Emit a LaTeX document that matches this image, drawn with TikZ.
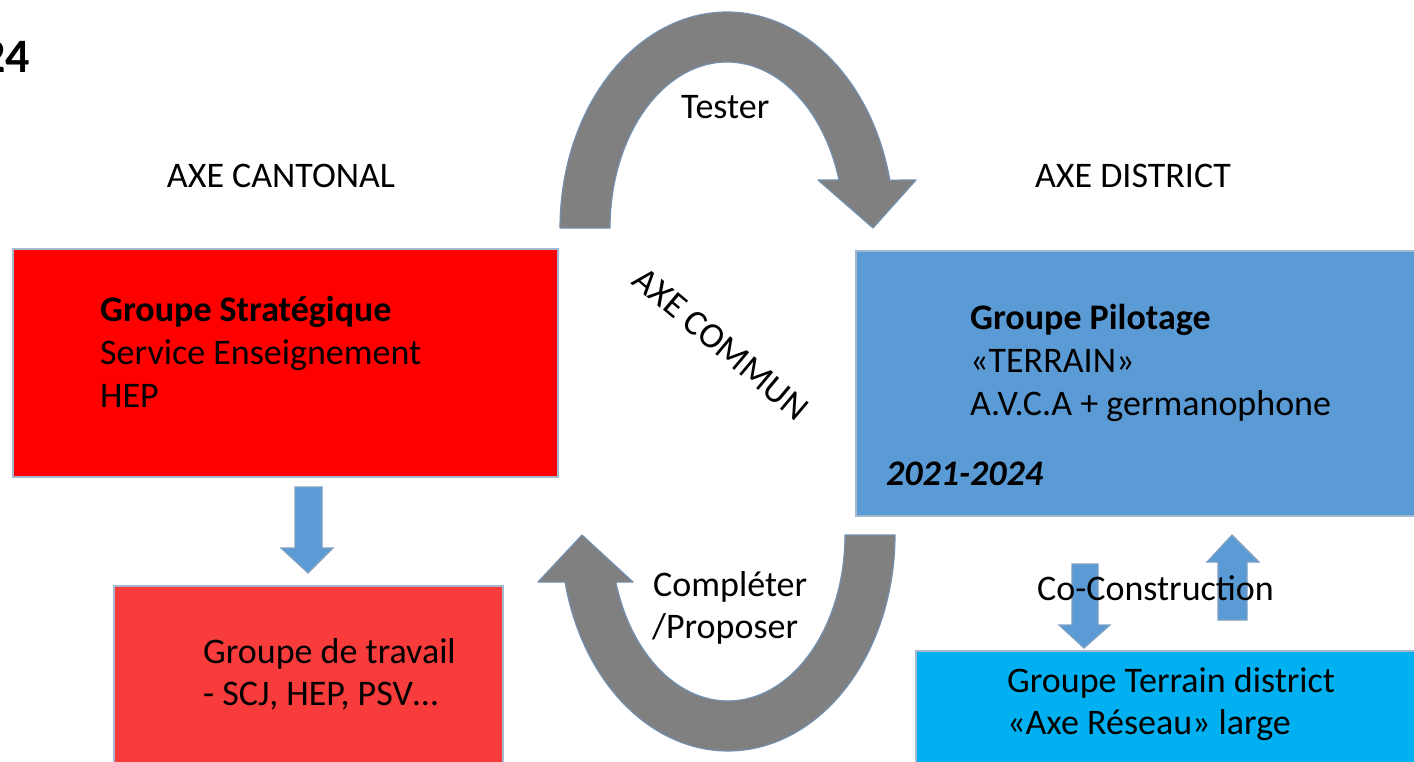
\documentclass[tikz,border=0pt]{standalone}
\usepackage{fontspec}
\setmainfont{Carlito}
\usetikzlibrary{calc}
\definecolor{boxred}{HTML}{FF0000}
\definecolor{boxred2}{HTML}{F83B3B}
\definecolor{boxblue}{HTML}{5B9BD5}
\definecolor{boxcyan}{HTML}{00B0F0}
\definecolor{edgeblue}{HTML}{A3B8CF}
\definecolor{arrgray}{HTML}{808080}
\definecolor{arredge}{HTML}{7390AE}
\definecolor{smalledge}{HTML}{7EA0C4}
\tikzset{
  box/.style={draw=edgeblue, line width=2pt, anchor=north west, inner sep=0pt},
  txt/.style={anchor=base west, inner sep=0pt, font=\fontsize{36}{43}\selectfont, text=black},
  ctxt/.style={anchor=base, inner sep=0pt, font=\fontsize{36}{43}\selectfont, text=black},
  garrow/.style={fill=arrgray, draw=arredge, line width=1.2pt, line join=round},
  barrow/.style={fill=boxblue, draw=smalledge, line width=1.2pt}
}
\begin{document}
\begin{tikzpicture}[x=1pt,y=-1pt]
\useasboundingbox (0,0) rectangle (1414,761);
\fill[white] (0,0) rectangle (1414,761);
% boxes
\node[box, fill=boxred, minimum width=545pt, minimum height=228pt] (cant) at (12,248) {};
\node[box, fill=boxblue, minimum width=575pt, minimum height=265pt] (dist) at (855,250) {};
\node[box, fill=boxred2, minimum width=389pt, minimum height=190pt] (trav) at (113,585) {};
\node[box, fill=boxcyan, minimum width=515pt, minimum height=130pt] (terr) at (915,650) {};
% big curved arrows
\path[garrow] plot[domain=180:347.2, samples=80] ({727+167*cos(\x)},{228+216*sin(\x)})
  -- (916,180) -- (873,228) -- (818,180)
  -- plot[domain=343.2:180, samples=80] ({727+117*cos(\x)},{228+166*sin(\x)}) -- cycle;
\path[garrow] plot[domain=0:167.4, samples=80] ({728+167*cos(\x)},{535+216*sin(\x)})
  -- (538,582) -- (582,535) -- (633,582)
  -- plot[domain=163.5:0, samples=80] ({728+117*cos(\x)},{535+166*sin(\x)}) -- cycle;
% small blue arrows
\path[barrow] (295,487) -- (322,487) -- (322,548) -- (333,548) -- (308,573) -- (281,548) -- (295,548) -- cycle;
\path[barrow] (1072,564) -- (1098,564) -- (1098,625) -- (1110,625) -- (1084,648) -- (1059,625) -- (1072,625) -- cycle;
\path[barrow] (1218,620) -- (1247,620) -- (1247,562) -- (1259,562) -- (1232,535) -- (1207,562) -- (1218,562) -- cycle;
% texts
\node[anchor=base east, inner sep=0pt, font=\fontsize{48}{58}\selectfont\bfseries] (year) at (30,72) {24};
\node[ctxt] (lcant) at (281,187) {AXE CANTONAL};
\node[ctxt] (ldist) at (1133,187) {AXE DISTRICT};
\node[txt] (tester) at (681,118) {Tester};
\node[inner sep=0pt, rotate=-40, font=\fontsize{36}{43}\selectfont] (commun) at (721,344) {AXE COMMUN};
\node[txt, font=\fontsize{36}{43}\selectfont\bfseries] (c1) at (100,321) {Groupe Stratégique};
\node[txt] (c2) at (100,364) {Service Enseignement};
\node[txt] (c3) at (100,407) {HEP};
\node[txt, font=\fontsize{36}{43}\selectfont\bfseries] (d1) at (970,329) {Groupe Pilotage};
\node[txt] (d2) at (970,372) {«TERRAIN»};
\node[txt] (d3) at (970,415) {A.V.C.A + germanophone};
\node[txt, font=\fontsize{36}{43}\selectfont\bfseries\itshape] (d4) at (886,485) {2021-2024};
\node[txt] (t1) at (203,663) {Groupe de travail};
\node[txt] (t2) at (203,705) {- SCJ, HEP, PSV…};
\node[txt] (g1) at (1007,692) {Groupe Terrain district};
\node[txt] (g2) at (1007,734) {«Axe Réseau» large};
\node[txt] (cocon) at (1037,600) {Co-Construction};
\node[txt] (comp1) at (653,596) {Compléter};
\node[txt] (comp2) at (652,638) {/Proposer};
\end{tikzpicture}
\end{document}
